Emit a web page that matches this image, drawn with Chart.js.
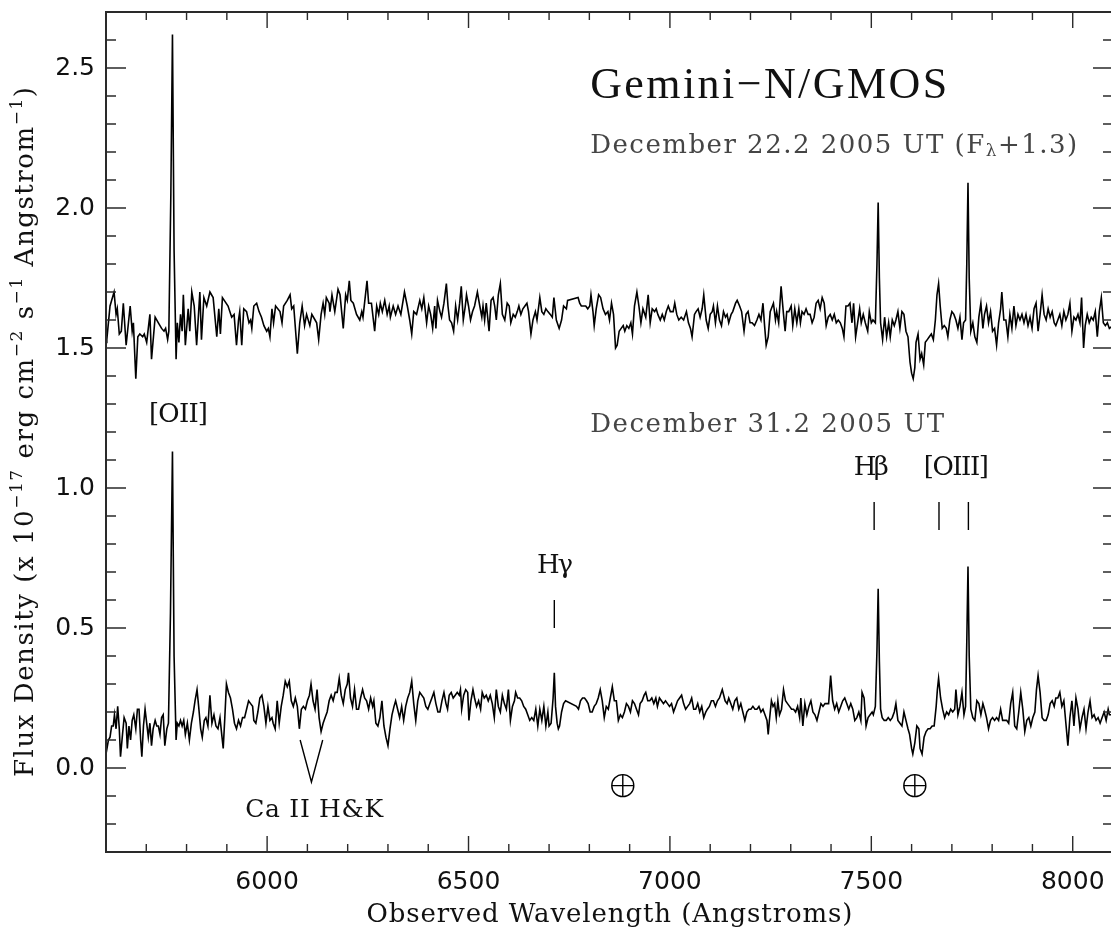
<!DOCTYPE html>
<html><head><meta charset="utf-8">
<script src="https://cdn.jsdelivr.net/npm/chart.js@4.4.1/dist/chart.umd.min.js"></script>
<style>
html,body{margin:0;padding:0;overflow:hidden;background:#fff;width:1111px;height:930px}
#wrap{position:absolute;left:0;top:0;width:1115px;height:930px}
canvas{display:block}
</style></head>
<body><div id="wrap"><canvas id="c" width="1115" height="930"></canvas></div>
<script>
// ---------------- data ----------------
const OFFSET22 = 1.3; // Dec 22 spectrum is plotted as F_lambda + 1.3
// [wavelength (A), F_lambda (1e-17 erg/cm2/s/A)]
const spec22 = [
[5600,0.22],[5602,0.23],[5610,0.35],[5620,0.40],[5625,0.32],[5628,0.34],[5633,0.25],[5638,0.26],[5643,0.36],[5650,0.21],
[5660,0.35],[5665,0.26],[5668,0.29],[5674,0.09],[5679,0.24],[5684,0.25],[5691,0.24],[5695,0.25],[5701,0.22],[5709,0.32],
[5713,0.16],[5722,0.31],[5730,0.29],[5738,0.27],[5744,0.26],[5748,0.27],[5753,0.23],[5756,0.26],[5761,0.75],[5765,1.32],
[5769,0.55],[5774,0.16],[5777,0.29],[5781,0.22],[5785,0.32],[5789,0.26],[5792,0.39],[5797,0.21],[5804,0.34],[5808,0.26],
[5813,0.40],[5819,0.35],[5825,0.21],[5833,0.40],[5837,0.23],[5843,0.38],[5850,0.35],[5858,0.40],[5866,0.38],[5875,0.24],
[5880,0.34],[5884,0.25],[5889,0.38],[5903,0.35],[5912,0.31],[5918,0.32],[5924,0.21],[5929,0.30],[5932,0.33],[5937,0.21],
[5942,0.34],[5949,0.33],[5955,0.29],[5959,0.30],[5962,0.27],[5967,0.35],[5974,0.36],[5980,0.33],[5986,0.31],[5992,0.28],
[5999,0.26],[6003,0.27],[6007,0.24],[6012,0.34],[6016,0.29],[6021,0.35],[6032,0.33],[6037,0.29],[6041,0.35],[6050,0.37],
[6057,0.39],[6061,0.34],[6066,0.35],[6075,0.18],[6081,0.29],[6087,0.35],[6093,0.28],[6098,0.32],[6106,0.28],[6111,0.32],
[6119,0.30],[6123,0.29],[6128,0.23],[6134,0.32],[6139,0.36],[6143,0.32],[6147,0.38],[6154,0.36],[6156,0.33],[6161,0.39],
[6168,0.33],[6176,0.41],[6181,0.39],[6189,0.27],[6195,0.39],[6199,0.37],[6204,0.44],[6208,0.37],[6214,0.36],[6222,0.32],
[6230,0.30],[6235,0.33],[6238,0.31],[6248,0.44],[6252,0.36],[6259,0.36],[6267,0.26],[6272,0.35],[6277,0.32],[6281,0.36],
[6286,0.33],[6292,0.37],[6298,0.32],[6303,0.35],[6306,0.31],[6313,0.35],[6319,0.32],[6325,0.35],[6332,0.32],[6341,0.40],
[6348,0.35],[6354,0.30],[6359,0.25],[6364,0.33],[6371,0.32],[6379,0.37],[6384,0.34],[6389,0.38],[6396,0.29],[6401,0.35],
[6406,0.32],[6411,0.27],[6416,0.35],[6419,0.27],[6423,0.37],[6429,0.33],
[6433,0.31],[6439,0.36],[6445,0.43],[6449,0.35],[6453,0.30],[6458,0.29],[6463,0.26],[6468,0.35],[6473,0.30],[6478,0.36],
[6482,0.42],[6487,0.30],[6492,0.35],[6495,0.39],[6500,0.35],[6505,0.30],[6510,0.33],[6515,0.35],[6522,0.40],[6528,0.35],
[6533,0.31],[6536,0.35],[6540,0.30],[6544,0.36],[6551,0.26],[6556,0.37],[6561,0.38],[6565,0.35],[6569,0.30],[6574,0.39],
[6579,0.43],[6584,0.32],[6590,0.30],[6596,0.36],[6601,0.35],[6605,0.29],[6611,0.32],[6616,0.31],[6621,0.33],[6625,0.35],
[6630,0.32],[6635,0.34],[6640,0.35],[6645,0.36],[6649,0.33],[6655,0.25],[6660,0.30],[6666,0.33],[6670,0.30],[6677,0.38],
[6682,0.33],[6687,0.32],[6692,0.34],[6697,0.33],[6703,0.32],[6708,0.31],[6712,0.38],[6718,0.30],[6725,0.27],[6731,0.30],
[6736,0.35],[6743,0.34],[6746,0.37],[6772,0.38],[6776,0.36],[6780,0.35],[6784,0.35],[6791,0.35],[6796,0.34],[6801,0.35],
[6804,0.39],[6809,0.33],[6812,0.28],[6817,0.34],[6823,0.39],[6828,0.38],[6834,0.34],[6840,0.32],[6846,0.33],[6850,0.30],
[6855,0.36],[6860,0.32],[6865,0.20],[6869,0.21],[6874,0.26],[6879,0.27],[6884,0.28],[6888,0.26],[6893,0.28],[6898,0.27],
[6903,0.29],[6907,0.25],[6912,0.35],[6918,0.40],[6923,0.35],[6928,0.29],[6933,0.34],[6940,0.31],[6946,0.39],[6951,0.29],
[6956,0.34],[6962,0.33],[6966,0.34],[6970,0.32],[6976,0.30],[6981,0.32],[6986,0.30],[6991,0.33],[6996,0.35],[7001,0.33],
[7008,0.33],[7012,0.36],[7017,0.32],[7022,0.30],[7028,0.31],[7034,0.30],[7041,0.33],[7046,0.29],[7051,0.27],[7055,0.24],
[7061,0.32],[7065,0.33],[7070,0.34],[7075,0.31],[7080,0.34],[7084,0.39],[7090,0.30],[7095,0.27],[7100,0.32],[7105,0.33],
[7108,0.35],[7113,0.29],[7118,0.35],[7123,0.30],[7128,0.28],[7133,0.33],[7138,0.31],[7142,0.32],[7146,0.29],[7152,0.32],
[7156,0.33],[7163,0.36],[7167,0.37],[7173,0.35],[7178,0.33],[7184,0.26],[7189,0.32],[7194,0.33],[7199,0.29],[7204,0.29],
[7210,0.28],[7216,0.30],[7221,0.32],[7226,0.30],[7231,0.36],[7235,0.28],[7239,0.21],[7244,0.24],[7249,0.33],
[7257,0.36],[7262,0.30],[7265,0.33],[7270,0.29],[7276,0.42],[7282,0.32],[7286,0.26],[7290,0.33],[7295,0.33],[7301,0.35],
[7305,0.28],[7310,0.34],[7315,0.29],[7320,0.34],[7324,0.29],[7328,0.33],[7333,0.32],[7338,0.34],[7343,0.32],[7348,0.32],
[7353,0.29],[7358,0.31],[7363,0.36],[7368,0.37],[7373,0.34],[7378,0.38],[7383,0.36],[7388,0.28],[7393,0.31],[7398,0.32],
[7403,0.30],[7408,0.32],[7413,0.29],[7418,0.30],[7423,0.29],[7428,0.27],[7432,0.24],[7437,0.35],[7442,0.35],[7447,0.36],
[7452,0.29],[7456,0.36],[7461,0.24],[7466,0.29],[7471,0.34],[7475,0.29],[7480,0.32],[7485,0.29],[7491,0.26],[7495,0.33],
[7500,0.29],[7504,0.30],[7510,0.29],[7514,0.50],[7517,0.72],[7520,0.45],[7523,0.29],[7528,0.23],[7533,0.31],[7538,0.24],
[7543,0.29],[7547,0.24],[7552,0.30],[7557,0.28],[7561,0.30],[7566,0.33],[7571,0.27],[7576,0.33],[7581,0.32],[7586,0.26],
[7591,0.24],[7596,0.15],[7600,0.11],[7604,0.09],[7608,0.13],[7611,0.22],[7616,0.25],[7621,0.16],[7625,0.18],[7630,0.14],
[7634,0.22],[7639,0.23],[7644,0.24],[7649,0.25],[7654,0.23],[7659,0.30],[7663,0.39],[7667,0.43],[7671,0.35],[7676,0.27],
[7681,0.28],[7686,0.27],[7690,0.24],[7695,0.30],[7700,0.33],[7705,0.32],[7710,0.30],[7715,0.27],[7720,0.31],[7725,0.23],
[7729,0.29],[7734,0.30],[7737,0.50],[7740,0.79],[7743,0.45],[7747,0.26],[7752,0.29],[7757,0.24],[7762,0.22],[7767,0.31],
[7772,0.36],[7777,0.27],[7781,0.32],[7786,0.35],[7791,0.29],[7796,0.33],[7801,0.26],[7806,0.27],[7811,0.21],[7816,0.29],
[7821,0.34],[7824,0.40],[7829,0.30],[7834,0.30],[7839,0.24],[7844,0.32],[7849,0.27],[7854,0.35],[7859,0.28],[7864,0.32],
[7869,0.30],[7874,0.32],[7879,0.29],[7884,0.32],[7889,0.28],[7894,0.31],[7899,0.27],[7904,0.34],[7909,0.36],[7914,0.26],
[7919,0.32],[7924,0.39],[7929,0.32],[7934,0.30],[7939,0.34],[7944,0.31],[7949,0.33],[7954,0.29],[7958,0.28],[7963,0.30],
[7968,0.32],[7973,0.28],[7978,0.33],[7983,0.30],[7988,0.32],[7993,0.36],[7998,0.26],[8003,0.31],[8008,0.30],[8013,0.32],
[8018,0.29],[8022,0.38],[8027,0.20],[8031,0.28],[8036,0.32],[8041,0.29],[8046,0.31],[8051,0.30],[8056,0.33],[8061,0.24],
[8066,0.33],[8071,0.38],[8076,0.29],[8081,0.28],[8086,0.29],[8091,0.27],[8100,0.28]
];
const spec31 = [
[5600,0.05],[5606,0.10],[5610,0.11],[5614,0.15],[5618,0.15],[5621,0.19],[5625,0.14],[5629,0.22],[5633,0.14],[5636,0.04],
[5641,0.12],[5645,0.18],[5650,0.16],[5653,0.07],[5657,0.15],[5661,0.10],[5665,0.17],[5669,0.19],[5674,0.14],[5678,0.21],
[5682,0.21],[5686,0.10],[5689,0.04],[5693,0.15],[5697,0.21],[5701,0.16],[5705,0.11],[5709,0.16],[5713,0.08],[5717,0.14],
[5722,0.17],[5726,0.15],[5730,0.15],[5734,0.12],[5738,0.18],[5742,0.19],[5746,0.08],[5751,0.14],[5755,0.16],[5760,0.55],
[5765,1.13],[5769,0.40],[5774,0.10],[5777,0.16],[5781,0.15],[5785,0.17],[5789,0.15],[5793,0.17],[5797,0.12],[5802,0.16],
[5807,0.10],[5812,0.16],[5817,0.20],[5821,0.24],[5826,0.28],[5830,0.22],[5835,0.14],[5839,0.11],[5844,0.17],[5848,0.18],
[5853,0.15],[5858,0.26],[5863,0.16],[5868,0.19],[5873,0.15],[5878,0.14],[5883,0.18],[5888,0.11],[5891,0.07],[5895,0.18],
[5899,0.30],[5904,0.27],[5909,0.25],[5914,0.21],[5919,0.16],[5924,0.14],[5929,0.17],[5934,0.15],[5939,0.18],[5944,0.18],
[5949,0.21],[5954,0.24],[5959,0.23],[5964,0.22],[5967,0.17],[5972,0.16],[5977,0.20],[5982,0.25],[5987,0.26],[5992,0.22],
[5997,0.16],[6002,0.22],[6007,0.17],[6012,0.18],[6015,0.16],[6020,0.14],[6025,0.24],[6030,0.16],[6035,0.22],[6040,0.26],
[6045,0.31],[6050,0.29],[6055,0.31],[6060,0.24],[6065,0.22],[6070,0.25],[6075,0.22],[6080,0.14],[6085,0.21],[6090,0.22],
[6095,0.21],[6100,0.24],[6105,0.26],[6109,0.30],[6114,0.24],[6119,0.21],[6124,0.28],[6129,0.18],[6134,0.13],[6139,0.16],
[6144,0.18],[6149,0.20],[6154,0.24],[6159,0.26],[6164,0.24],[6169,0.27],[6174,0.27],[6179,0.32],[6184,0.26],[6189,0.23],
[6194,0.28],[6199,0.30],[6202,0.34],[6207,0.25],[6212,0.22],[6217,0.28],[6222,0.21],[6227,0.21],[6232,0.25],[6237,0.28],
[6242,0.25],[6247,0.24],[6252,0.21],[6257,0.25],[6262,0.22],[6265,0.24],[6270,0.16],[6275,0.15],[6280,0.18],[6285,0.24],
[6290,0.15],[6295,0.11],[6300,0.08],[6305,0.14],[6310,0.19],[6315,0.22],[6319,0.24],[6324,0.21],[6329,0.18],[6334,0.22],
[6339,0.17],[6344,0.22],[6349,0.25],[6354,0.27],[6359,0.31],[6364,0.23],[6369,0.17],[6374,0.24],[6379,0.27],[6389,0.25],
[6394,0.22],[6399,0.21],[6404,0.23],[6409,0.25],[6414,0.27],[6419,0.23],[6424,0.20],[6429,0.20],
[6434,0.24],[6439,0.27],[6444,0.23],[6448,0.21],[6452,0.26],[6457,0.27],[6462,0.25],[6467,0.26],[6472,0.27],[6477,0.26],
[6480,0.28],[6483,0.21],[6488,0.26],[6493,0.28],[6498,0.27],[6501,0.17],[6506,0.24],[6511,0.28],[6515,0.25],[6520,0.22],
[6525,0.24],[6530,0.21],[6534,0.27],[6539,0.25],[6544,0.26],[6549,0.24],[6554,0.26],[6559,0.23],[6564,0.18],[6569,0.28],
[6574,0.22],[6579,0.20],[6584,0.26],[6589,0.23],[6594,0.21],[6599,0.28],[6604,0.17],[6609,0.22],[6614,0.24],[6617,0.27],
[6622,0.25],[6627,0.25],[6632,0.24],[6637,0.22],[6642,0.21],[6647,0.19],[6652,0.17],[6657,0.18],[6662,0.17],[6667,0.21],
[6672,0.15],[6677,0.21],[6682,0.17],[6687,0.22],[6692,0.15],[6697,0.20],[6700,0.15],[6705,0.16],[6710,0.25],[6713,0.34],
[6716,0.22],[6720,0.16],[6723,0.14],[6726,0.15],[6731,0.20],[6736,0.23],[6741,0.24],[6768,0.22],[6773,0.21],[6778,0.24],
[6783,0.25],[6788,0.25],[6793,0.24],[6797,0.23],[6802,0.20],[6807,0.20],[6812,0.22],[6817,0.23],[6822,0.25],[6827,0.28],
[6832,0.24],[6837,0.18],[6842,0.22],[6847,0.21],[6852,0.25],[6857,0.29],[6862,0.24],[6867,0.24],[6872,0.17],[6877,0.19],
[6882,0.18],[6887,0.20],[6892,0.23],[6897,0.22],[6902,0.20],[6907,0.24],[6912,0.23],[6917,0.21],[6922,0.19],[6926,0.23],
[6931,0.24],[6936,0.26],[6940,0.27],[6945,0.24],[6950,0.24],[6955,0.25],[6960,0.23],[6965,0.25],[6969,0.22],[6974,0.25],
[6979,0.24],[6984,0.23],[6989,0.24],[6994,0.23],[6999,0.22],[7004,0.23],[7009,0.20],[7014,0.22],[7019,0.24],[7024,0.25],
[7029,0.26],[7034,0.23],[7039,0.21],[7044,0.22],[7049,0.23],[7054,0.25],[7059,0.21],[7064,0.21],[7069,0.23],[7074,0.20],
[7079,0.22],[7084,0.18],[7089,0.20],[7093,0.21],[7098,0.22],[7103,0.24],[7108,0.24],[7113,0.22],[7118,0.24],[7123,0.25],
[7130,0.28],[7137,0.24],[7142,0.23],[7146,0.25],[7151,0.23],[7156,0.21],[7161,0.24],[7166,0.25],[7171,0.21],[7176,0.23],
[7181,0.20],[7186,0.17],[7191,0.20],[7196,0.21],[7201,0.21],[7206,0.22],[7211,0.21],[7216,0.21],[7221,0.22],[7226,0.20],
[7231,0.21],[7236,0.19],[7241,0.17],[7244,0.12],[7247,0.17],[7252,0.24],
[7256,0.22],[7260,0.23],[7264,0.18],[7268,0.24],[7272,0.19],[7277,0.21],[7282,0.28],[7287,0.24],[7292,0.23],[7297,0.22],
[7302,0.21],[7307,0.21],[7312,0.20],[7317,0.22],[7322,0.18],[7325,0.25],[7330,0.15],[7335,0.23],[7340,0.19],[7345,0.22],
[7350,0.24],[7355,0.20],[7360,0.19],[7365,0.17],[7370,0.20],[7375,0.23],[7380,0.22],[7385,0.23],[7389,0.23],[7394,0.23],
[7399,0.33],[7404,0.24],[7409,0.21],[7414,0.23],[7419,0.20],[7424,0.22],[7429,0.24],[7434,0.25],[7439,0.23],[7444,0.21],
[7449,0.23],[7454,0.21],[7459,0.17],[7464,0.18],[7469,0.20],[7474,0.17],[7477,0.27],[7482,0.25],[7487,0.15],[7492,0.18],
[7497,0.19],[7502,0.20],[7505,0.19],[7510,0.22],[7514,0.42],[7517,0.64],[7520,0.38],[7523,0.21],[7527,0.18],[7532,0.17],
[7537,0.17],[7542,0.18],[7547,0.17],[7552,0.18],[7557,0.20],[7561,0.23],[7566,0.17],[7576,0.15],[7581,0.20],[7586,0.17],
[7591,0.14],[7595,0.12],[7600,0.07],[7603,0.05],[7608,0.09],[7613,0.15],[7618,0.14],[7621,0.07],[7626,0.05],[7631,0.11],
[7636,0.13],[7641,0.14],[7646,0.14],[7651,0.15],[7656,0.15],[7661,0.22],[7664,0.28],[7667,0.32],[7672,0.25],[7677,0.21],
[7682,0.18],[7687,0.20],[7692,0.19],[7697,0.21],[7702,0.20],[7707,0.21],[7710,0.28],[7715,0.19],[7720,0.22],[7725,0.27],
[7730,0.19],[7734,0.22],[7737,0.45],[7740,0.72],[7743,0.40],[7747,0.21],[7752,0.18],[7757,0.17],[7762,0.24],[7767,0.23],
[7772,0.19],[7777,0.23],[7781,0.21],[7786,0.18],[7791,0.14],[7796,0.17],[7801,0.18],[7806,0.17],[7811,0.18],[7816,0.17],
[7821,0.21],[7826,0.17],[7831,0.17],[7836,0.17],[7841,0.16],[7846,0.23],[7851,0.27],[7856,0.15],[7861,0.14],[7866,0.20],
[7871,0.27],[7876,0.21],[7881,0.13],[7886,0.17],[7891,0.18],[7896,0.15],[7901,0.18],[7906,0.20],[7910,0.28],[7914,0.33],
[7919,0.27],[7924,0.18],[7929,0.17],[7934,0.17],[7939,0.19],[7944,0.23],[7949,0.24],[7954,0.22],[7958,0.25],[7963,0.25],
[7968,0.27],[7973,0.22],[7978,0.24],[7983,0.16],[7988,0.08],[7993,0.18],[7998,0.24],[8003,0.15],[8008,0.25],[8013,0.21],
[8018,0.14],[8023,0.18],[8028,0.21],[8033,0.14],[8038,0.20],[8043,0.24],[8048,0.18],[8053,0.19],[8058,0.17],[8063,0.18],
[8068,0.16],[8073,0.18],[8078,0.20],[8083,0.17],[8088,0.21],[8091,0.19],[8100,0.19]
];
const xMajorTicks = [6000, 6500, 7000, 7500, 8000];
const xMinorTicks = [5700,5800,5900,6100,6200,6300,6400,6600,6700,6800,6900,7100,7200,7300,7400,7600,7700,7800,7900];
const yMajorTicks = [0.0, 0.5, 1.0, 1.5, 2.0, 2.5];
const yMinorTicks = [-0.2,-0.1,0.1,0.2,0.3,0.4,0.6,0.7,0.8,0.9,1.1,1.2,1.3,1.4,1.6,1.7,1.8,1.9,2.1,2.2,2.3,2.4,2.6];
// line identification ticks (H-gamma, H-beta, [OIII] 4959, [OIII] 5007)
const lineIdX    = [6713, 7507, 7668, 7741];
const lineIdLow  = [0.50, 0.85, 0.85, 0.85];
const lineIdHigh = [0.60, 0.95, 0.95, 0.95];
// Ca II H&K "V" marker
const caHKX = [6082, 6110, 6138];
const caHKY = [0.10, -0.05, 0.10];
// telluric bands (circle-plus symbols)
const telluricX = [6883, 7608];
const telluricY = [-0.063, -0.063];

// ---------------- styling / text ----------------
const SERIF = '"Liberation Serif","Times New Roman",serif';
const DSERIF = '"DejaVu Serif",serif';
const lineLabels = [
  {text: '[OII]', x: 5780, y: 1.234, w: 59},
  {text: 'Hγ', x: 6715, y: 0.696, w: 36},
  {text: 'Hβ', x: 7500, y: 1.045, w: 35},
  {text: '[OIII]', x: 7711, y: 1.045, w: 65},
  {text: 'Ca II H&K', x: 6117, y: -0.174, w: 138, size: 25}
];

function drawRuns(ctx, runs, x0, y0, targetW, align) {
  ctx.letterSpacing = '0px';
  let w0 = 0, n = 0;
  for (const r of runs) { ctx.font = r.font; r.w = ctx.measureText(r.t).width; w0 += r.w; n += [...r.t].length; }
  const ls = n > 1 ? (targetW - w0) / (n - 1) : 0;
  let x = align === 'center' ? x0 - targetW / 2 : x0;
  ctx.textAlign = 'left';
  for (const r of runs) {
    ctx.font = r.font;
    ctx.letterSpacing = ls + 'px';
    ctx.fillText(r.t, x, y0 + (r.dy || 0));
    x += r.w + [...r.t].length * ls;
  }
  ctx.letterSpacing = '0px';
}

const framePlugin = {
  id: 'frame',
  afterDatasetsDraw(chart) {
    const {ctx, chartArea: a, scales: {x, y}} = chart;
    ctx.save();
    ctx.strokeStyle = '#2a2a2a';
    ctx.lineWidth = 1.4;
    ctx.beginPath();
    for (const v of xMajorTicks) {
      const p = x.getPixelForValue(v);
      ctx.moveTo(p, a.bottom); ctx.lineTo(p, a.bottom - 16);
      ctx.moveTo(p, a.top); ctx.lineTo(p, a.top + 16);
    }
    for (const v of xMinorTicks) {
      const p = x.getPixelForValue(v);
      ctx.moveTo(p, a.bottom); ctx.lineTo(p, a.bottom - 8);
      ctx.moveTo(p, a.top); ctx.lineTo(p, a.top + 8);
    }
    for (const v of yMajorTicks) {
      const p = y.getPixelForValue(v);
      ctx.moveTo(a.left, p); ctx.lineTo(a.left + 20, p);
      ctx.moveTo(a.right, p); ctx.lineTo(a.right - 20, p);
    }
    for (const v of yMinorTicks) {
      const p = y.getPixelForValue(v);
      ctx.moveTo(a.left, p); ctx.lineTo(a.left + 10, p);
      ctx.moveTo(a.right, p); ctx.lineTo(a.right - 10, p);
    }
    ctx.stroke();
    ctx.lineWidth = 2;
    ctx.strokeRect(a.left, a.top, a.right - a.left, a.bottom - a.top);
    ctx.restore();
  },
  afterDraw(chart) {
    const {ctx, chartArea: a, scales: {x, y}} = chart;
    ctx.save();
    ctx.textBaseline = 'alphabetic';
    ctx.fillStyle = '#111';
    // title
    drawRuns(ctx, [{t: 'Gemini−N/GMOS', font: `44px ${SERIF}`}], x.getPixelForValue(6802), y.getPixelForValue(2.392), 357, 'left');
    ctx.fillStyle = '#454545';
    drawRuns(ctx, [
      {t: 'December 22.2 2005 UT (F', font: `26px ${DSERIF}`},
      {t: 'λ', font: `17px ${DSERIF}`, dy: 3},
      {t: '+1.3)', font: `26px ${DSERIF}`}
    ], x.getPixelForValue(6802), y.getPixelForValue(2.196), 487, 'left');
    drawRuns(ctx, [{t: 'December 31.2 2005 UT', font: `26px ${DSERIF}`}], x.getPixelForValue(6802), y.getPixelForValue(1.199), 354, 'left');
    // line labels
    ctx.fillStyle = '#111';
    for (const L of lineLabels) {
      drawRuns(ctx, [{t: L.text, font: `${L.size || 26}px ${DSERIF}`}], x.getPixelForValue(L.x), y.getPixelForValue(L.y), L.w, 'center');
    }
    // x axis title
    drawRuns(ctx, [{t: 'Observed Wavelength (Angstroms)', font: `26px ${DSERIF}`}], (a.left + a.right) / 2, 922, 486, 'center');
    // y axis title
    ctx.translate(33, (a.top + a.bottom) / 2);
    ctx.rotate(-Math.PI / 2);
    const N = `26px ${DSERIF}`, S = `17px ${DSERIF}`;
    drawRuns(ctx, [
      {t: 'Flux Density (x 10', font: N},
      {t: '−17', font: S, dy: -11},
      {t: ' erg cm', font: N},
      {t: '−2', font: S, dy: -11},
      {t: ' s', font: N},
      {t: '−1', font: S, dy: -11},
      {t: ' Angstrom', font: N},
      {t: '−1', font: S, dy: -11},
      {t: ')', font: N}
    ], 0, 0, 690, 'center');
    ctx.restore();
  }
};

const lineStyle = {borderColor: '#000', borderWidth: 1.6, pointRadius: 0, fill: false, tension: 0};
const datasets = [
  Object.assign({label: 'Dec 22.2 (F+1.3)', data: spec22.map(p => ({x: p[0], y: p[1] + OFFSET22}))}, lineStyle),
  Object.assign({label: 'Dec 31.2', data: spec31.map(p => ({x: p[0], y: p[1]}))}, lineStyle)
];
lineIdX.forEach((w, i) => datasets.push(Object.assign({label: 'id' + i,
  data: [{x: w, y: lineIdLow[i]}, {x: w, y: lineIdHigh[i]}]}, lineStyle, {borderWidth: 1.4})));
datasets.push(Object.assign({label: 'CaHK', data: caHKX.map((w, i) => ({x: w, y: caHKY[i]}))}, lineStyle, {borderWidth: 1.4}));
// telluric symbol: open circle + cross
const tellPts = telluricX.map((w, i) => ({x: w, y: telluricY[i]}));
datasets.push({label: 'telluric-o', data: tellPts, showLine: false, pointStyle: 'circle', pointRadius: 11,
  pointBorderWidth: 1.4, pointBorderColor: '#000', pointBackgroundColor: 'rgba(0,0,0,0)'});
datasets.push({label: 'telluric-+', data: tellPts, showLine: false, pointStyle: 'cross', pointRadius: 11,
  pointBorderWidth: 1.4, pointBorderColor: '#000'});

new Chart(document.getElementById('c'), {
  type: 'line',
  data: {datasets},
  options: {
    responsive: false,
    animation: false,
    devicePixelRatio: 1,
    layout: {autoPadding: false, padding: {left: 0, right: 2, top: 12, bottom: 0}},
    plugins: {legend: {display: false}, tooltip: {enabled: false}},
    scales: {
      x: {
        type: 'linear', min: 5600, max: 8100, position: 'bottom',
        grid: {display: false, drawTicks: false}, border: {display: false},
        ticks: {padding: 15, color: '#111', font: {family: '"DejaVu Sans"', size: 25}, maxRotation: 0, callback: v => String(v)},
        afterBuildTicks: s => { s.ticks = xMajorTicks.map(v => ({value: v})); },
        afterFit: s => { s.height = 78; s.paddingLeft = 0; s.paddingRight = 0; }
      },
      y: {
        type: 'linear', min: -0.3, max: 2.7, position: 'left',
        grid: {display: false, drawTicks: false}, border: {display: false},
        ticks: {padding: 11, color: '#111', font: {family: '"DejaVu Sans"', size: 25}, callback: v => Number(v).toFixed(1)},
        afterBuildTicks: s => { s.ticks = yMajorTicks.map(v => ({value: v})); },
        afterFit: s => { s.width = 106; s.paddingTop = 0; s.paddingBottom = 0; }
      }
    }
  },
  plugins: [framePlugin]
});
</script>
</body></html>
